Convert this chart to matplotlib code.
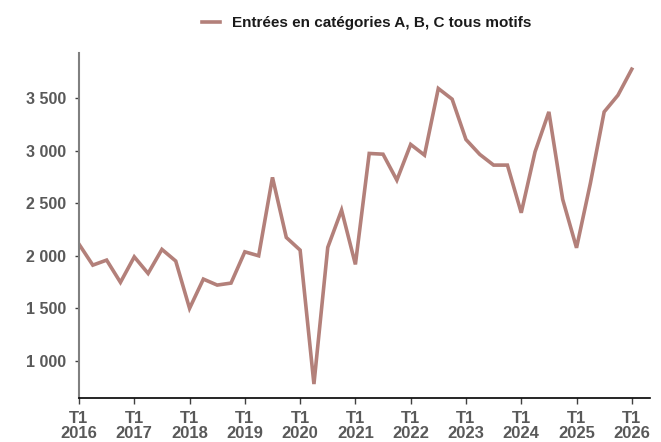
import matplotlib
matplotlib.use("Agg")
import matplotlib.pyplot as plt

plt.rcParams['font.family'] = ['Liberation Sans', 'DejaVu Sans']

values = [2111, 1911, 1959, 1747, 1990, 1832, 2061, 1950,
          1499, 1778, 1721, 1740, 2038, 2000, 2747, 2175,
          2054, 778, 2080, 2435, 1918, 2975, 2968, 2721,
          3061, 2959, 3594, 3492, 3108, 2966, 2864, 2864,
          2410, 2991, 3371, 2537, 2076, 2689, 3371, 3530,
          3778]
years = [str(y) for y in range(2016, 2027)]
series_label = "Entrées en catégories A, B, C tous motifs"
ytick_vals = [1000, 1500, 2000, 2500, 3000, 3500]
ytick_labels = ["1 000", "1 500", "2 000", "2 500", "3 000", "3 500"]

fig = plt.figure(figsize=(6.61, 4.42), dpi=100)
ax = fig.add_axes([0.1195, 0.0995, 0.8635, 0.7813])

x = list(range(len(values)))
line, = ax.plot(x, values, color='#b3807a', linewidth=2.6, label=series_label,
                solid_joinstyle='miter')

ax.set_xlim(0, 41.3)
ax.set_ylim(645, 3935)

ax.set_yticks(ytick_vals)
ax.set_yticklabels(ytick_labels)
ax.set_xticks([4 * i for i in range(len(years))])
ax.set_xticklabels(["T1\n" + y for y in years], linespacing=1.05)

for lab in ax.get_xticklabels():
    lab.set_fontweight('bold')
    lab.set_color('#595959')
    lab.set_fontsize(12)
for lab in ax.get_yticklabels():
    lab.set_fontweight('bold')
    lab.set_color('#595959')
    lab.set_fontsize(11.5)

ax.tick_params(axis='y', length=3, width=1, color='#404040', pad=6)
ax.tick_params(axis='x', length=4, width=1, color='#404040', pad=5)

ax.spines['top'].set_visible(False)
ax.spines['right'].set_visible(False)
ax.spines['left'].set_color('#808080')
ax.spines['left'].set_linewidth(1.5)
ax.spines['bottom'].set_color('#000000')
ax.spines['bottom'].set_linewidth(1.2)

fig.legend(handles=[line], loc='center', bbox_to_anchor=(0.555, 0.947),
           frameon=False, prop={'weight': 'bold', 'size': 11},
           handlelength=1.2, handletextpad=0.8, labelcolor='#1a1a1a')

fig.savefig('out.png', dpi=100)
